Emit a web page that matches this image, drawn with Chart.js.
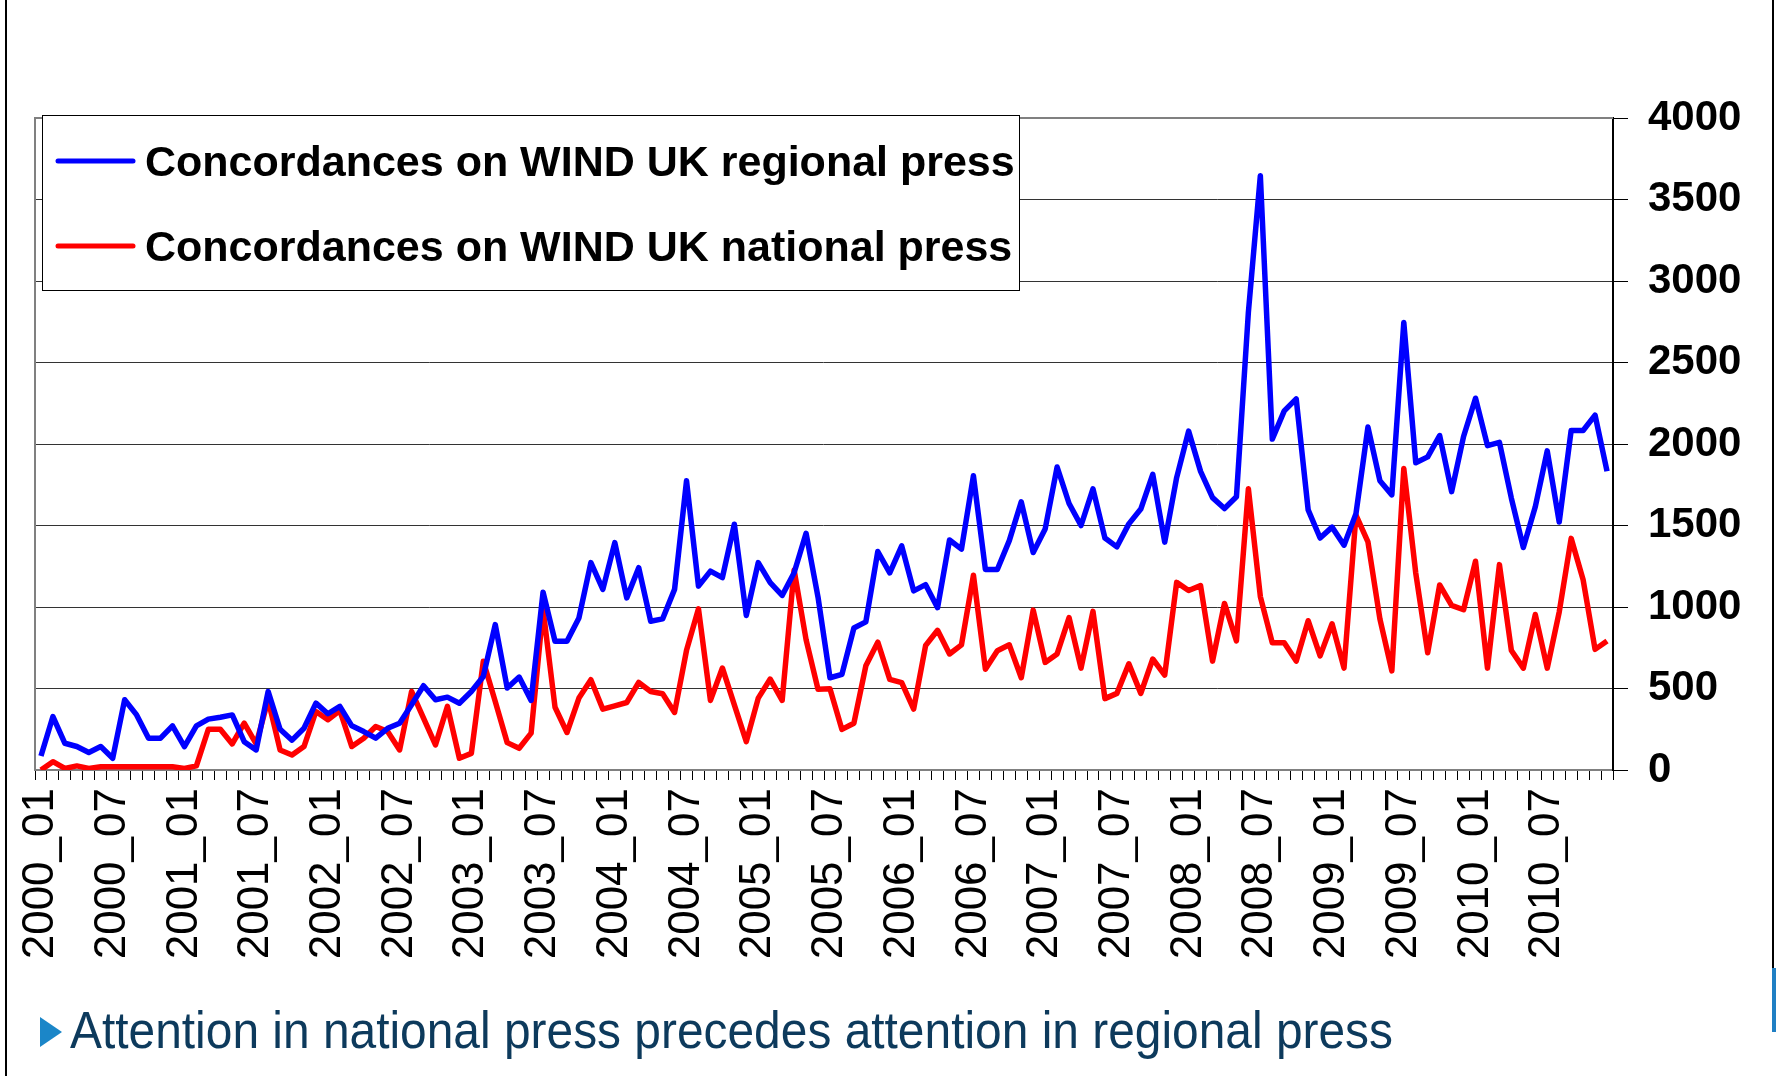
<!DOCTYPE html>
<html>
<head>
<meta charset="utf-8">
<script src="https://cdn.jsdelivr.net/npm/chart.js@4.4.1/dist/chart.umd.min.js"></script>
<style>
  body { margin: 0; background: #fff; }
  #wrap { position: relative; width: 1776px; height: 1076px; overflow: hidden; }
  #chart { position: absolute; left: 0; top: 0; }
  .line { position: absolute; background: #000; }
  #caption { position: absolute; left: 70px; top: 1004px; font-family: "Liberation Sans Narrow", "Arial Narrow", "Liberation Sans", sans-serif;
             font-size: 52px; line-height: 1; color: #0d3a5c; white-space: nowrap; transform-origin: left top; }
  #bullet { position: absolute; left: 40px; top: 1017px; width: 0; height: 0;
            border-top: 15px solid transparent; border-bottom: 15px solid transparent; border-left: 22px solid #1b86c8; }
</style>
</head>
<body>
<div id="wrap">
  <canvas id="chart" width="1776" height="1076"></canvas>
  <div class="line" style="left:5px;top:0;width:2px;height:1076px"></div>
  <div class="line" style="left:1772px;top:0;width:2px;height:968px"></div>
  <div class="line" style="left:1772px;top:968px;width:4px;height:64px;background:#1f7fc4"></div>
  <div id="bullet"></div>
  <div id="caption">Attention in national press precedes attention in regional press</div>
</div>
<script>
// monthly categories 2000_01 .. 2010_12
let years = [2000, 2001, 2002, 2003, 2004, 2005, 2006, 2007, 2008, 2009, 2010];
let months = ["01", "02", "03", "04", "05", "06", "07", "08", "09", "10", "11", "12"];
let labels = [];
years.forEach(y => months.forEach(m => labels.push(y + "_" + m)));

let regional = [
    86, 328, 164, 144, 107, 144, 72, 431, 338, 195, 195, 271,
    144, 271, 312, 324, 338, 174, 123, 482, 250, 183, 256, 410,
    345, 390, 271, 236, 195, 256, 287, 400, 517, 431, 447, 410,
    482, 574, 892, 503, 570, 427, 1091, 790, 790, 933, 1272, 1108,
    1395, 1056, 1241, 913, 927, 1108, 1774, 1128, 1220, 1180, 1508, 948,
    1272, 1149, 1071, 1210, 1452, 1060, 566, 587, 871, 909, 1340, 1209,
    1375, 1099, 1137, 996, 1411, 1355, 1805, 1230, 1230, 1407, 1645, 1334,
    1479, 1859, 1635, 1500, 1725, 1423, 1369, 1510, 1601, 1814, 1398, 1794,
    2079, 1832, 1671, 1604, 1676, 2809, 3646, 2030, 2203, 2277, 1596, 1423,
    1490, 1379, 1573, 2104, 1775, 1688, 2746, 1885, 1921, 2052, 1708, 2046,
    2281, 1990, 2010, 1667, 1365, 1615, 1958, 1521, 2083, 2083, 2177, 1833
];
let national = [
    0, 51, 10, 25, 10, 20, 20, 20, 20, 20, 20, 20,
    10, 25, 250, 250, 160, 287, 160, 431, 123, 92, 144, 359,
    308, 365, 144, 195, 267, 236, 123, 482, 318, 154, 390, 72,
    102, 667, 420, 168, 133, 226, 985, 385, 230, 441, 554, 373,
    394, 414, 537, 482, 468, 353, 734, 989, 427, 626, 400, 174,
    441, 558, 427, 1227, 800, 495, 498, 249, 287, 639, 784, 556,
    536, 374, 764, 857, 712, 768, 1195, 618, 732, 768, 566, 981,
    660, 712, 935, 625, 973, 438, 470, 651, 470, 681, 582, 1151,
    1101, 1131, 668, 1022, 792, 1725, 1064, 780, 780, 668, 916, 700,
    897, 625, 1563, 1400, 927, 608, 1850, 1208, 719, 1135, 1010, 983,
    1281, 625, 1260, 733, 625, 954, 625, 969, 1421, 1167, 740, 792
];
let seriesNames = ["Concordances on WIND UK regional press", "Concordances on WIND UK national press"];
let seriesColors = ["#0000ff", "#ff0000"];

let fontFamily = '"Liberation Sans", Arial, sans-serif';

// grey left/top frame of the plot area
let plotFrame = {
    id: 'plotFrame',
    beforeDatasetsDraw(chart) {
        let a = chart.chartArea, ctx = chart.ctx;
        ctx.save();
        ctx.strokeStyle = '#808080';
        ctx.lineWidth = 2;
        ctx.beginPath();
        ctx.moveTo(a.left, a.bottom);
        ctx.lineTo(a.left, a.top);
        ctx.lineTo(a.right, a.top);
        ctx.stroke();
        ctx.restore();
    }
};

// boxed legend sitting inside the plot, top left
let boxLegend = {
    id: 'boxLegend',
    beforeDatasetsDraw(chart) {
        let ctx = chart.ctx;
        ctx.save();
        ctx.fillStyle = '#fff';
        ctx.fillRect(42, 115, 977, 175);
        ctx.strokeStyle = '#000';
        ctx.lineWidth = 1;
        ctx.strokeRect(42.5, 115.5, 977, 175);
        ctx.font = 'bold 43px ' + fontFamily;
        ctx.textBaseline = 'alphabetic';
        chart.data.datasets.forEach((ds, i) => {
            let y = 161 + i * 85;
            ctx.strokeStyle = ds.borderColor;
            ctx.lineWidth = 5;
            ctx.lineCap = 'round';
            ctx.beginPath();
            ctx.moveTo(58, y);
            ctx.lineTo(133, y);
            ctx.stroke();
            ctx.fillStyle = '#000';
            ctx.fillText(ds.label, 145, y + 15);
        });
        ctx.restore();
    }
};

let datasets = seriesNames.map((name, i) => ({
    label: name,
    data: i == 0 ? regional : national,
    borderColor: seriesColors[i],
    backgroundColor: seriesColors[i],
    borderWidth: 5.5,
    borderJoinStyle: 'round',
    pointRadius: 0,
    tension: 0,
    fill: false
}));

let ctx = document.getElementById('chart').getContext('2d');
let chart = new Chart(ctx, {
    type: 'line',
    data: { labels: labels, datasets: datasets },
    plugins: [plotFrame, boxLegend],
    options: {
        responsive: false,
        animation: false,
        layout: { padding: { left: 35, top: 118, right: 0, bottom: 0 } },
        plugins: { legend: { display: false }, tooltip: { enabled: false } },
        scales: {
            x: {
                type: 'category',
                offset: true,
                afterFit: s => { s.height = 306; },
                border: { color: '#808080', width: 2 },
                grid: { drawOnChartArea: false, drawTicks: true, tickLength: 10, tickColor: '#000', offset: true },
                ticks: {
                    autoSkip: false,
                    minRotation: 90,
                    maxRotation: 90,
                    padding: 8,
                    color: '#000',
                    font: { family: fontFamily, size: 44 },
                    callback: function (value, index) {
                        return index % 6 == 0 ? this.getLabelForValue(value) : '';
                    }
                }
            },
            y: {
                position: 'right',
                min: 0,
                max: 4000,
                afterFit: s => { s.width = 163; },
                border: { color: '#000', width: 2 },
                grid: { color: '#333', lineWidth: 1, tickLength: 15, tickColor: '#000' },
                ticks: {
                    stepSize: 500,
                    padding: 20,
                    color: '#000',
                    font: { family: fontFamily, size: 42, weight: 'bold' },
                    callback: value => String(value)
                }
            }
        }
    }
});

// caption font is a narrow face; squeeze the text to the reference width if it is missing
let cap = document.getElementById('caption');
let capWidth = cap.getBoundingClientRect().width;
cap.style.transform = 'scaleX(' + (1323 / capWidth) + ')';
</script>
</body>
</html>
